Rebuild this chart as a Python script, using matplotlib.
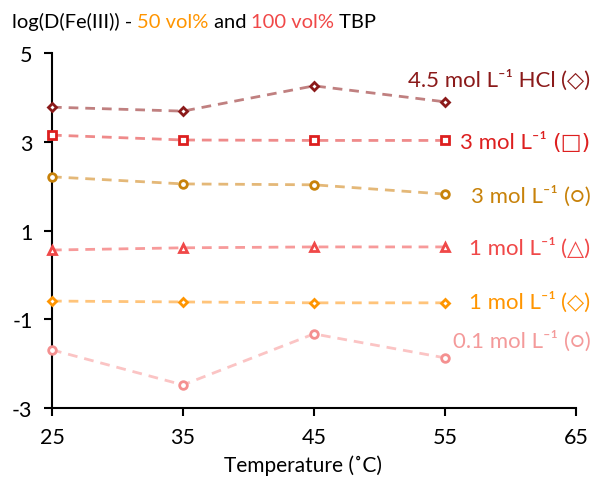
import matplotlib.pyplot as plt

plt.rcParams['font.family'] = ['Lato', 'DejaVu Sans']
plt.rcParams['axes.unicode_minus'] = False

temps = [25, 35, 45, 55]

# log D(Fe(III)) for each acid concentration
hcl45_sq = [3.78, 3.69, 4.26, 3.90]
hcl3_sq = [3.15, 3.04, 3.03, 3.03]
hcl3_ci = [2.21, 2.05, 2.03, 1.82]
hcl1_tr = [0.56, 0.61, 0.63, 0.63]
hcl1_di = [-0.59, -0.61, -0.63, -0.63]
hcl01_ci = [-1.69, -2.48, -1.33, -1.87]

# series labels: text part and marker symbol part
label_text = ['4.5 mol L⁻¹ HCl ', '3 mol L⁻¹ ', '3 mol L⁻¹ ',
              '1 mol L⁻¹ ', '1 mol L⁻¹ ', '0.1 mol L⁻¹ ']
label_sym = ['(◇)', '(□)', '(○)', '(△)', '(◇)', '(○)']
label_y = [4.25, 2.86, 1.64, 0.47, -0.75, -1.62]

series = [hcl45_sq, hcl3_sq, hcl3_ci, hcl1_tr, hcl1_di, hcl01_ci]
markers = ['D', 's', 'o', '^', 'D', 'o']
msizes = [4.5, 5.5, 5.5, 6, 4.5, 5.5]
mcolors = ['#8b1a1a', '#dd1f1f', '#c8820a', '#f04848', '#ff9500', '#f49090']
lcolors = ['#c08080', '#ef8a8a', '#e4b878', '#f79a9a', '#ffc47a', '#fbc4c4']
tcolors = ['#8b1a1a', '#dd1f1f', '#c8820a', '#f04848', '#ff9500', '#f49a9a']

fig = plt.figure(figsize=(5.94, 4.81), dpi=100)
ax = fig.add_axes([0.0875, 0.1497, 0.882, 0.738])

for ys, m, ms, mc, lc in zip(series, markers, msizes, mcolors, lcolors):
    ax.plot(temps, ys, ls=(0, (3.5, 2.5)), lw=2, color=lc, zorder=2)
    ax.plot(temps, ys, ls='none', marker=m, ms=ms, mfc='white', mec=mc, mew=2, zorder=3,
            clip_on=False)

for txt, sym, y, c in zip(label_text, label_sym, label_y, tcolors):
    fam = ['DejaVu Sans'] if sym == '(□)' else ['Lato', 'DejaVu Sans']
    s = ax.text(66.1, y, sym, ha='right', va='baseline', fontsize=16, color=c, family=fam)
    ax.annotate(txt, xy=(0, 0), xycoords=s, ha='right', va='bottom',
                fontsize=16, color=c, annotation_clip=False)

ax.set_xlim(25, 65)
ax.set_ylim(-3, 5)
ax.set_xticks([25, 35, 45, 55, 65])
ax.set_yticks([-3, -1, 1, 3, 5])
ax.spines['top'].set_visible(False)
ax.spines['right'].set_visible(False)
ax.spines['left'].set_linewidth(1.5)
ax.spines['bottom'].set_linewidth(1.5)
ax.tick_params(labelsize=15.5, width=1.5, length=6, pad=8)
ax.set_xlabel('Temperature (˚C)', fontsize=15, labelpad=4)
ax.xaxis.set_label_coords(0.48, -0.13)

# title in three colours
t = fig.text(0.02, 0.954, 'log(D(Fe(III)) - ', fontsize=14.5, color='black', va='center')
parts = [('50 vol%', '#ff9500'), (' and ', 'black'), ('100 vol%', '#f04848'), (' TBP', 'black')]
prev = t
for s, c in parts:
    prev = ax.annotate(s, xy=(1, 0), xycoords=prev, va='bottom', ha='left',
                       fontsize=14.5, color=c, annotation_clip=False)

fig.savefig('out.png', dpi=100)
